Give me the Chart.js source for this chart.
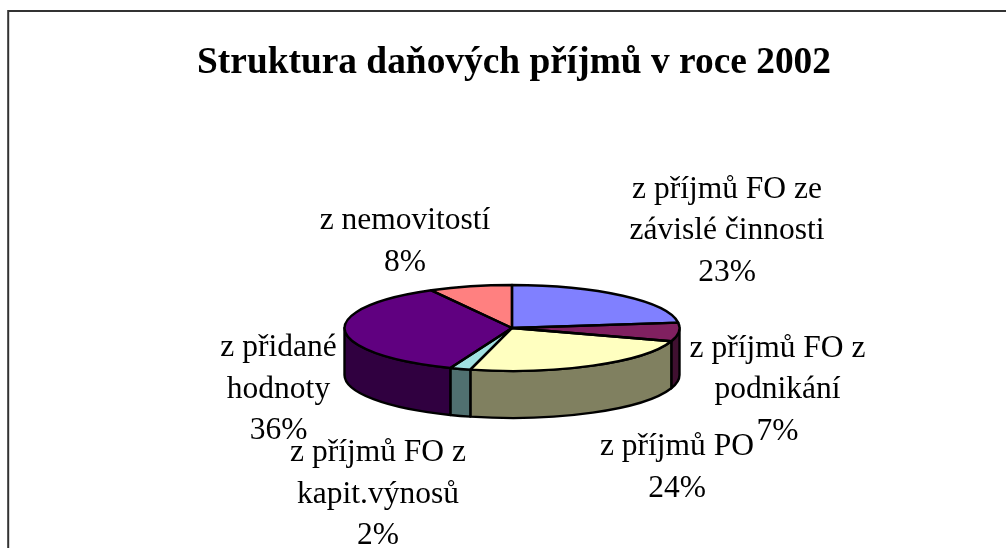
<!DOCTYPE html>
<html><head><meta charset="utf-8">
<style>html,body{margin:0;padding:0;background:#fff}canvas{display:block}</style>
<script src="https://cdn.jsdelivr.net/npm/chart.js@4"></script>
</head><body><canvas id="c" width="1006" height="548"></canvas>
<script>
const categories = ["z příjmů FO ze závislé činnosti","z příjmů FO z podnikání","z příjmů PO","z příjmů FO z kapit.výnosů","z přidané hodnoty","z nemovitostí"];
const values = [23,7,24,2,36,8];
const topColors = ["#8080FF","#802060","#FFFFC0","#A0E0E0","#600080","#FF8080"];
const sideColors = ["#404080","#401030","#808060","#507070","#300040","#804040"];
const titleText = "Struktura daňových příjmů v roce 2002";
const labelLines = [
 ["z příjmů FO ze","závislé činnosti","23%"],
 ["z příjmů FO z","podnikání","7%"],
 ["z příjmů PO","24%"],
 ["z příjmů FO z","kapit.výnosů","2%"],
 ["z přidané","hodnoty","36%"],
 ["z nemovitostí","8%"]
];
// label anchor: centre x and first-line baseline y
const labelAnchors = [[727,197.5],[777.5,356.5],[677,455],[378,461],[278.5,356],[405,229]];
const lineStep = 41.7;
const SQUASH = 43/167.5, DEPTH = 47, TAU = Math.PI*2;

const pie3d = {
  id:'pie3d',
  afterLayout(chart){ if(chart.titleBlock){ chart.titleBlock.left += 2; chart.titleBlock.right += 2; } },
  beforeDatasetsDraw(chart){
    const ctx = chart.ctx, arcs = chart.getDatasetMeta(0).data;
    const a0 = arcs[0], cx = a0.x, cy = a0.y, r = a0.outerRadius, ry = r*SQUASH;
    ctx.save();
    ctx.lineWidth = 2.4; ctx.strokeStyle = '#000'; ctx.lineJoin='round';
    arcs.forEach((arc,i)=>{
      let s = arc.startAngle, e = arc.endAngle;
      while (s < -1e-6) { s += TAU; e += TAU; }
      if (e > TAU) { s = 0; e = e - TAU; }
      const from = Math.max(s,0), to = Math.min(e,Math.PI);
      if (to <= from) return;
      ctx.beginPath();
      ctx.ellipse(cx,cy,r,ry,0,from,to);
      ctx.ellipse(cx,cy+DEPTH,r,ry,0,to,from,true);
      ctx.closePath();
      ctx.fillStyle = sideColors[i];
      ctx.fill(); ctx.stroke();
    });
    ctx.restore();
    ctx.save();
    ctx.translate(cx,cy); ctx.scale(1,SQUASH); ctx.translate(-cx,-cy);
  },
  afterDatasetsDraw(chart){
    const ctx = chart.ctx, arcs = chart.getDatasetMeta(0).data;
    ctx.restore();
    ctx.save();
    ctx.lineWidth = 2.4; ctx.strokeStyle = '#000'; ctx.lineJoin='round';
    arcs.forEach(arc=>{
      ctx.beginPath();
      ctx.moveTo(arc.x,arc.y);
      ctx.ellipse(arc.x,arc.y,arc.outerRadius,arc.outerRadius*SQUASH,0,arc.startAngle,arc.endAngle);
      ctx.closePath();
      ctx.stroke();
    });
    ctx.restore();
  },
  afterDraw(chart){
    const ctx = chart.ctx;
    ctx.save();
    ctx.strokeStyle = '#333'; ctx.lineWidth = 2;
    ctx.beginPath(); ctx.moveTo(8.2,548); ctx.lineTo(8.2,11); ctx.lineTo(1006,11); ctx.stroke();
    ctx.fillStyle = '#000';
    ctx.font = '31.5px "Liberation Serif"';
    ctx.textAlign = 'center'; ctx.textBaseline = 'alphabetic';
    labelLines.forEach((lines,i)=>{
      lines.forEach((t,j)=>ctx.fillText(t,labelAnchors[i][0],labelAnchors[i][1]+j*lineStep));
    });
    ctx.restore();
  }
};

new Chart(document.getElementById('c'),{
  type:'pie',
  data:{labels:categories,datasets:[{data:values,backgroundColor:topColors,borderWidth:0,hoverOffset:0,radius:167.5}]},
  options:{
    responsive:false,animation:false,
    layout:{padding:{left:18,right:0,top:41,bottom:52.5}},
    plugins:{
      legend:{display:false},tooltip:{enabled:false},
      title:{display:true,text:titleText,color:'#000',
        font:{family:'"Liberation Serif"',size:37.4,weight:'bold',lineHeight:1.2},
        padding:{top:0,bottom:74.6}}
    }
  },
  plugins:[pie3d]
});
</script></body></html>
